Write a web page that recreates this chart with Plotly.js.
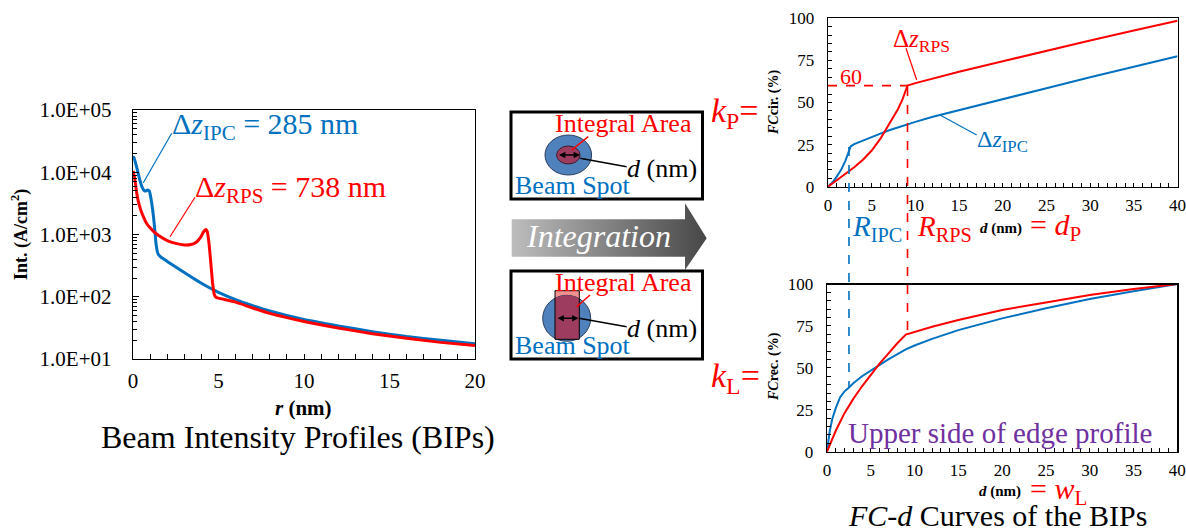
<!DOCTYPE html>
<html><head><meta charset="utf-8">
<script src="https://cdn.plot.ly/plotly-3.0.1.min.js"></script>
<style>html,body{margin:0;padding:0;background:#fff;}#chart{width:1186px;height:531px;}</style>
</head><body><div id="chart"></div>
<script>
// ---- Beam intensity profiles (left) ----
const bipR_IPC = [0,0.05,0.15,0.25,0.4,0.55,0.65,0.75,0.85,0.95,1.05,1.15,1.25,1.35,1.45,1.6,2,2.5,3,3.5,4,4.5,5,6,7,8,10,12,14,16,18,20];
const bipI_IPC = [17000,17500,14000,11000,7500,5600,5100,5000,5200,5000,3800,2500,1400,700,500,440,370,300,245,200,165,138,118,90,72,59,43,34,27.5,23,20,17.5];
const bipR_RPS = [0,0.1,0.2,0.3,0.45,0.6,0.8,1.0,1.2,1.5,2.0,2.5,3.0,3.4,3.7,3.95,4.15,4.27,4.35,4.45,4.55,4.65,4.75,4.85,5,6,7,8,10,12,14,16,18,20];
const bipI_RPS = [10500,8000,5000,3500,2500,1950,1500,1280,1120,960,800,720,680,690,750,900,1130,1200,1100,700,350,170,110,98,95,82,66,54,40,31.5,25.5,21.5,18.5,16.5];
const bipYTicks = [10,100,1000,10000,100000];
const bipYText = ['1.0E+01','1.0E+02','1.0E+03','1.0E+04','1.0E+05'];

// ---- FC-d curves, circular integral area (top right) ----
const cirD_IPC = [0,0.5,1,1.5,2,2.3,2.6,3,4,5,6,7,8,9,10,12,15,20,25,30,35,40];
const cirFC_IPC = [0,2.5,6,10,15.5,20.5,24,25.3,27.5,29.5,31.5,33.5,35.3,37,38.5,41.5,45.5,52,58.5,65,71.3,77.5];
const cirD_RPS = [0,1,2,3,4,5,6,6.5,7,7.5,8,8.5,8.8,9.1,10,12,15,20,25,30,35,40];
const cirFC_RPS = [0,3.7,7.5,11.5,16,21.5,28.5,32.7,37,41.5,46,51.5,56,60,61.5,64.3,68.3,74.5,80.8,86.8,92.8,98.6];

// ---- FC-d curves, rectangular integral area (bottom right) ----
const recD_IPC = [0,0.3,0.6,1,1.5,2,2.45,3,4,5,6,7,8,9,10,12,15,20,25,30,35,40];
const recFC_IPC = [0,12,19.5,26,32.5,36,38,40.8,45,48.5,51.7,55,58,61,63.3,67.3,72.5,79.5,85.5,91,95.7,100];
const recD_RPS = [0,0.5,1,2,3,4,5,6,7,8,9,10,12,15,20,25,30,35,40];
const recFC_RPS = [0,6.5,12.5,23,31.5,39,46,52.5,58.5,64.5,69.8,71.5,74.5,78.5,84.5,89,93.4,97,100];

// marker values
const R_IPC = 2.4, R_RPS = 9.1, kP = 60;

const BLUE = '#0070C0', RED = '#FF0000', PURPLE = '#7030A0';
const SERIF = 'Liberation Serif';
const W = 1186, H = 531;

const traces = [
  {x: bipR_IPC, y: bipI_IPC, xaxis:'x', yaxis:'y', mode:'lines', line:{color:BLUE, width:3, shape:'spline', smoothing:0.5}},
  {x: bipR_RPS, y: bipI_RPS, xaxis:'x', yaxis:'y', mode:'lines', line:{color:RED, width:3, shape:'spline', smoothing:0.4}},
  {x: cirD_IPC, y: cirFC_IPC, xaxis:'x2', yaxis:'y2', mode:'lines', line:{color:BLUE, width:2}},
  {x: cirD_RPS, y: cirFC_RPS, xaxis:'x2', yaxis:'y2', mode:'lines', line:{color:RED, width:2}},
  {x: recD_IPC, y: recFC_IPC, xaxis:'x3', yaxis:'y3', mode:'lines', line:{color:BLUE, width:2}},
  {x: recD_RPS, y: recFC_RPS, xaxis:'x3', yaxis:'y3', mode:'lines', line:{color:RED, width:2}},
  // Integration arrow (diagram, page pixel coordinates)
  {x:[511.7,685,685,706.7,685,685,511.7,511.7], y:[219.3,219.3,203.3,238.3,270,256.7,256.7,219.3],
   xaxis:'x4', yaxis:'y4', mode:'lines', line:{width:0, color:'rgba(0,0,0,0)'}, fill:'toself',
   fillcolor:'#7f7f7f', fillgradient:{type:'horizontal', colorscale:[[0,'#bdbdbd'],[1,'#474747']]}, hoverinfo:'skip'}
];

function dom(a,b,size){return [a/size, b/size];}
function ydom(top,bottom){return [1-bottom/H, 1-top/H];}

const tickFont = (s)=>({family:SERIF, size:s, color:'#000'});
const frame = {showline:true, mirror:true, linecolor:'#000', linewidth:1.3, showgrid:false, zeroline:false};

const layout = {
  width:W, height:H, margin:{l:0,r:0,t:0,b:0}, showlegend:false,
  font:{family:SERIF},
  paper_bgcolor:'#fff', plot_bgcolor:'rgba(0,0,0,0)',
  xaxis: Object.assign({}, frame, {domain:dom(133,475,W), anchor:'y', range:[0,20], dtick:5, ticks:'inside', ticklen:5, tickcolor:'#000',
    minor:{dtick:1, ticks:'inside', ticklen:5, tickcolor:'#000'}, tickfont:tickFont(21), ticklabelstandoff:2}),
  yaxis: Object.assign({}, frame, {domain:ydom(110,359), anchor:'x', type:'log', range:[1,5], tickmode:'array', tickvals:bipYTicks, ticktext:bipYText,
    ticks:'inside', ticklen:6, tickcolor:'#000', minor:{dtick:'D1', ticks:'inside', ticklen:4, tickcolor:'#000'}, tickfont:tickFont(21), ticklabelstandoff:16}),
  xaxis2: Object.assign({}, frame, {domain:dom(828,1177.5,W), anchor:'y2', range:[0,40], dtick:5, ticks:'inside', ticklen:4, tickcolor:'#000',
    minor:{dtick:1, ticks:'inside', ticklen:4, tickcolor:'#000'}, tickfont:tickFont(17), ticklabelstandoff:3}),
  yaxis2: Object.assign({}, frame, {domain:ydom(18.3,186.7), anchor:'x2', range:[0,100], dtick:25, ticks:'inside', ticklen:4, tickcolor:'#000',
    minor:{dtick:5, ticks:'inside', ticklen:4, tickcolor:'#000'}, tickfont:tickFont(17), ticklabelstandoff:9}),
  xaxis3: Object.assign({}, frame, {domain:dom(827,1177.3,W), anchor:'y3', range:[0,40], dtick:5, ticks:'inside', ticklen:4, tickcolor:'#000',
    minor:{dtick:1, ticks:'inside', ticklen:4, tickcolor:'#000'}, tickfont:tickFont(17), ticklabelstandoff:3}),
  yaxis3: Object.assign({}, frame, {domain:ydom(284,451.7), anchor:'x3', range:[0,100], dtick:25, ticks:'inside', ticklen:4, tickcolor:'#000',
    minor:{dtick:5, ticks:'inside', ticklen:4, tickcolor:'#000'}, tickfont:tickFont(17), ticklabelstandoff:9}),
  xaxis4: {domain:[0,1], anchor:'y4', range:[0,W], visible:false, fixedrange:true},
  yaxis4: {domain:[0,1], anchor:'x4', range:[H,0], visible:false, fixedrange:true},
  shapes:[], annotations:[]
};

const S = layout.shapes, A = layout.annotations;
function line(x0,y0,x1,y1,color,width,dash,xref,yref){S.push({type:'line',xref:xref||'x4',yref:yref||'y4',x0,y0,x1,y1,line:{color,width:width||1,dash:dash||'solid'},layer:'above'});}
function txt(x,y,text,size,color,opts){A.push(Object.assign({xref:'x4',yref:'y4',x,y,text,showarrow:false,xanchor:'left',yanchor:'middle',
  font:{family:SERIF,size,color}},opts||{}));}

// bold top frame for lower right chart
line(827,284,1177.3,284,'#000',2);

// dashed guide lines
S.push({type:'line',xref:'x2',yref:'y2',x0:0,x1:R_RPS,y0:kP,y1:kP,line:{color:RED,width:1.6,dash:'dash'}});
S.push({type:'line',xref:'x2',yref:'y4',x0:R_IPC,x1:R_IPC,y0:147,y1:387,line:{color:BLUE,width:1.6,dash:'dash'}});
S.push({type:'line',xref:'x2',yref:'y4',x0:R_RPS,x1:R_RPS,y0:87,y1:332,line:{color:RED,width:1.6,dash:'dash'}});

// ---- Middle diagrams ----
S.push({type:'rect',xref:'x4',yref:'y4',x0:511,x1:702.5,y0:112,y1:199,line:{color:'#000',width:3},fillcolor:'#fff'});
S.push({type:'rect',xref:'x4',yref:'y4',x0:511,x1:702.5,y0:271,y1:359,line:{color:'#000',width:3},fillcolor:'#fff'});
// box 1: circular area
S.push({type:'circle',xref:'x4',yref:'y4',x0:545,x1:591.6,y0:135,y1:175,fillcolor:'#4F81BD',line:{color:'#2B3F5C',width:1}});
S.push({type:'circle',xref:'x4',yref:'y4',x0:556.6,x1:580,y0:146,y1:164,fillcolor:'#9E3C5F',line:{color:'#3a1a28',width:1}});
// box 2: rectangular area
const rx0=555, rx1=579.3, ry0=290.7, ry1=339.3, ecx=566.7, ecy=318.3, erx=24, ery=23;
S.push({type:'rect',xref:'x4',yref:'y4',x0:rx0,x1:rx1,y0:ry0,y1:ry1,fillcolor:'#F59090',line:{width:0}});
S.push({type:'circle',xref:'x4',yref:'y4',x0:ecx-erx,x1:ecx+erx,y0:ecy-ery,y1:ecy+ery,fillcolor:'#4F81BD',line:{color:'#2B3F5C',width:1}});
(function(){
  let top=[], bot=[];
  for(let i=0;i<=20;i++){
    const x=rx0+(rx1-rx0)*i/20, t=(x-ecx)/erx, h=ery*Math.sqrt(Math.max(0,1-t*t));
    top.push([x,Math.max(ry0,ecy-h)]); bot.push([x,Math.min(ry1,ecy+h)]);
  }
  let p='M'+top.map(q=>q[0].toFixed(2)+','+q[1].toFixed(2)).join('L');
  p+='L'+bot.reverse().map(q=>q[0].toFixed(2)+','+q[1].toFixed(2)).join('L')+'Z';
  S.push({type:'path',xref:'x4',yref:'y4',path:p,fillcolor:'#9E3C5F',line:{width:0}});
})();
S.push({type:'rect',xref:'x4',yref:'y4',x0:rx0,x1:rx1,y0:ry0,y1:ry1,fillcolor:'rgba(0,0,0,0)',line:{color:'#000',width:1}});

// leader lines in diagrams
line(571.7,150,588.3,136.7,RED,1.5);
line(580,158.3,626.7,166.7,'#000',1.5);
line(576.7,306.7,590,295,RED,1.5);
line(579,318.3,626.7,326.7,'#000',1.5);
// double arrows
[[557.5,580,155],[556,578.5,318.3]].forEach(a=>{
  A.push({xref:'x4',yref:'y4',axref:'x4',ayref:'y4',x:a[1],y:a[2],ax:a[0],ay:a[2],text:'',showarrow:true,
    arrowhead:2,startarrowhead:2,arrowside:'end+start',arrowsize:0.8,startarrowsize:0.8,arrowwidth:1.6,arrowcolor:'#000'});
});

// ---- Left chart texts ----
line(143.3,182.7,171.7,133.3,BLUE,1.2);
line(170,236.7,195,197.3,RED,1.2);
txt(170,126,'Δ<i>z</i><sub>IPC</sub> = 285 nm',30,BLUE);
txt(193,189,'Δ<i>z</i><sub>RPS</sub> = 738 nm',30,RED);
txt(20,235,'<b>Int. (A/cm<sup>2</sup>)</b>',18,'#000',{xanchor:'center',textangle:-90});
txt(303,408,'<b><i>r</i> (nm)</b>',21,'#000',{xanchor:'center'});
txt(298,437,'Beam Intensity Profiles (BIPs)',32,'#000',{xanchor:'center'});

// middle texts
txt(553,123,'Integral Area',26,RED);
txt(625,168,'<i>d</i> (nm)',26,'#000');
txt(513,185,'Beam Spot',26,BLUE);
txt(553,282,'Integral Area',26,RED);
txt(625,328,'<i>d</i> (nm)',26,'#000');
txt(513,345,'Beam Spot',26,BLUE);
txt(524,236,'<i>Integration</i>',32,'#fff');

// ---- Right charts texts ----
txt(709,113,'<i>k</i><sub>P</sub>=',34,RED);
txt(709,378,'<i>k</i><sub>L</sub>=',34,RED);
txt(774,103,'<b><i>FC</i>cir. (%)</b>',14,'#000',{xanchor:'center',textangle:-90});
txt(774,367,'<b><i>FC</i>rec. (%)</b>',14,'#000',{xanchor:'center',textangle:-90});
txt(851,76,'60',22,RED,{xanchor:'center'});
line(906,48.3,916.7,80,RED,1.2);
txt(891,40,'Δ<i>z</i><sub>RPS</sub>',25,RED);
line(940,115,976.7,135,BLUE,1.2);
txt(975,141,'Δ<i>z</i><sub>IPC</sub>',24,BLUE);
txt(850,228,'<i>R</i><sub>IPC</sub>',29,BLUE);
txt(915,228,'<i>R</i><sub>RPS</sub>',29,RED);
txt(1001,228,'<b><i>d</i> (nm)</b>',15,'#000',{xanchor:'center'});
txt(1028,227,'= <i>d</i><sub>P</sub>',30,RED);
txt(1000,491,'<b><i>d</i> (nm)</b>',15,'#000',{xanchor:'center'});
txt(1028,491,'= <i>w</i><sub>L</sub>',30,RED);
txt(846,433,'Upper side of edge profile',29,PURPLE);
txt(997,515,'<i>FC</i>-<i>d</i> Curves of the BIPs',30,'#000',{xanchor:'center'});

Plotly.newPlot('chart', traces, layout, {staticPlot:true, displayModeBar:false});
</script></body></html>
